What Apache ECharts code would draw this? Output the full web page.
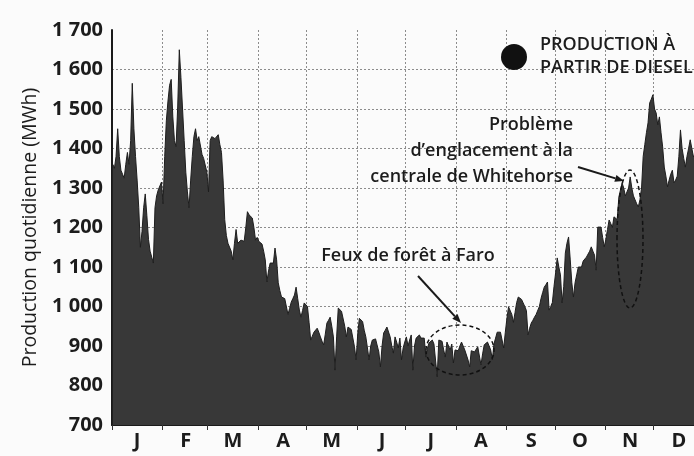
<!DOCTYPE html>
<html>
<head>
<meta charset="utf-8">
<script src="https://cdn.jsdelivr.net/npm/echarts@6/dist/echarts.min.js"></script>
<style>
html,body{margin:0;padding:0;background:#fbfbfb;}
#chart{width:694px;height:456px;}
</style>
</head>
<body>
<div id="chart"></div>
<script>
// Daily diesel-generated production (MWh), one array per month
const janValues = [1360,1350,1380,1450,1380,1345,1335,1325,1360,1390,1360,1420,1565,1450,1380,1320,1250,1150,1190,1250,1285,1230,1170,1140,1125,1110,1250,1280,1295,1305,1315];
const febValues = [1260,1380,1470,1520,1560,1575,1480,1420,1405,1505,1650,1580,1500,1420,1340,1290,1250,1320,1380,1430,1450,1420,1430,1435,1385,1375,1370,1340];
const marValues = [1290,1420,1430,1435,1425,1430,1435,1410,1390,1320,1220,1180,1160,1158,1140,1118,1160,1195,1160,1165,1168,1165,1165,1200,1240,1232,1228,1224,1200,1168,1175];
const aprValues = [1165,1161,1158,1140,1118,1062,1090,1110,1108,1110,1148,1118,1060,1040,1024,1026,1020,1016,980,995,1011,1020,1029,1049,1020,991,973,990,1009,1005];
const mayValues = [1000,960,915,925,935,940,945,935,923,912,903,930,958,965,973,950,923,839,923,996,992,988,984,950,923,948,945,942,940,898,865];
const junValues = [930,970,965,962,940,923,895,865,900,915,915,918,920,885,847,900,933,940,948,953,923,900,882,923,910,895,920,865,895,910];
const julValues = [923,900,915,928,839,900,920,925,928,920,915,920,872,895,908,912,915,905,900,822,915,913,912,890,872,910,900,890,905,857,890];
const augValues = [890,888,900,910,900,890,888,865,847,888,886,885,890,898,903,852,880,903,908,910,912,890,865,905,920,935,935,935,930,895,935];
const sepValues = [970,999,1004,980,960,985,1010,1024,1020,1018,1016,1000,990,928,945,958,965,973,980,985,1000,1020,1035,1049,1055,1062,991,1000,1010,1050];
const octValues = [1085,1123,1100,1080,1009,1050,1135,1160,1176,1120,1060,1024,1060,1080,1100,1100,1100,1115,1120,1125,1130,1140,1151,1140,1130,1092,1201,1205,1201,1175,1151];
const novValues = [1170,1195,1219,1210,1200,1227,1225,1220,1277,1295,1313,1300,1280,1290,1300,1328,1300,1280,1270,1260,1252,1270,1300,1380,1410,1440,1465,1515,1525,1536];
const decValues = [1500,1490,1460,1480,1440,1404,1353,1330,1303,1320,1335,1345,1313,1320,1330,1380,1447,1400,1375,1353,1380,1400,1422,1400,1379,1385,1395,1400,1390,1385,1395];

const monthLetters = ['J','F','M','A','M','J','J','A','S','O','N','D'];
const monthArrays = [janValues,febValues,marValues,aprValues,mayValues,junValues,julValues,augValues,sepValues,octValues,novValues,decValues];
const yMin = 700, yMax = 1700, yStep = 100;

const values = [].concat(...monthArrays);
const days = values.map((v, i) => String(i + 1));
const monthStart = new Set();
const monthMid = {};
let acc = 0;
monthArrays.forEach((arr, m) => {
  monthStart.add(acc);
  monthMid[acc + Math.floor(arr.length / 2)] = monthLetters[m];
  acc += arr.length;
});

const FONT = '"Open Sans", "Noto Sans", sans-serif';
const chart = echarts.init(document.getElementById('chart'), null, {renderer: 'canvas'});

function arrow(x1, y1, x2, y2) {
  const dx = x2 - x1, dy = y2 - y1, L = Math.hypot(dx, dy);
  const ux = dx / L, uy = dy / L, px = -uy, py = ux;
  const hl = 9, hw = 3.6;
  const bx = x2 - ux * hl, by = y2 - uy * hl;
  return [
    {type: 'line', shape: {x1, y1, x2: bx, y2: by}, style: {stroke: '#1a1a1a', lineWidth: 2}},
    {type: 'polygon', shape: {points: [[x2, y2], [bx + px * hw, by + py * hw], [bx - px * hw, by - py * hw]]}, style: {fill: '#1a1a1a'}}
  ];
}

const gridColors = [];
for (let v = yMin; v <= yMax; v += yStep) gridColors.push(v === yMax ? 'rgba(0,0,0,0)' : '#8c8c8c');

const textStyle = (extra) => Object.assign({font: '600 18px ' + FONT, fill: '#1c1c1c'}, extra);

chart.setOption({
  animation: false,
  backgroundColor: '#fbfbfb',
  grid: {left: 112, right: -10, top: 30, bottom: 31, outerBoundsMode: 'none'},
  xAxis: {
    type: 'category',
    data: days,
    boundaryGap: true,
    axisLine: {show: true, lineStyle: {color: '#1a1a1a', width: 2}},
    axisTick: {show: true, length: 5, interval: (i) => monthStart.has(i), lineStyle: {color: '#333', width: 1}},
    axisLabel: {
      show: true, interval: (i) => monthMid[i] !== undefined,
      formatter: (v, i) => monthMid[i] || '',
      fontFamily: FONT, fontSize: 20, fontWeight: 'bold', color: '#1c1c1c', margin: 6
    },
    splitLine: {show: true, interval: (i) => monthStart.has(i) && i > 0, lineStyle: {color: '#8c8c8c', type: [2, 2], width: 1}}
  },
  yAxis: {
    type: 'value', min: yMin, max: yMax, interval: yStep,
    name: 'Production quotidienne (MWh)',
    nameLocation: 'middle', nameGap: 72,
    nameTextStyle: {fontFamily: FONT, fontSize: 19.5, color: '#1c1c1c'},
    axisLine: {show: true, lineStyle: {color: '#1a1a1a', width: 2}},
    axisTick: {show: false},
    axisLabel: {
      fontFamily: FONT, fontSize: 20, fontWeight: 'bold', color: '#1c1c1c', margin: 9,
      formatter: (v) => v >= 1000 ? Math.floor(v / 1000) + ' ' + String(v % 1000).padStart(3, '0') : String(v)
    },
    splitLine: {show: true, lineStyle: {color: gridColors, type: [2, 2], width: 1}}
  },
  series: [{
    type: 'line',
    data: values,
    symbol: 'none',
    z: 3,
    lineStyle: {color: '#1e1e1e', width: 1},
    areaStyle: {color: '#383838', opacity: 1, origin: 'start'}
  }],
  graphic: [
    {type: 'circle', shape: {cx: 514, cy: 57, r: 13}, style: {fill: '#111'}, z: 10},
    {type: 'text', style: textStyle({text: 'PRODUCTION À', x: 540, y: 45, textVerticalAlign: 'middle', font: '600 18px ' + FONT}), z: 10},
    {type: 'text', style: textStyle({text: 'PARTIR DE DIESEL', x: 540, y: 68, textVerticalAlign: 'middle', font: '600 18px ' + FONT}), z: 10},

    {type: 'text', style: textStyle({text: 'Problème', x: 573, y: 125, textAlign: 'right', textVerticalAlign: 'middle'}), z: 10},
    {type: 'text', style: textStyle({text: 'd’englacement à la', x: 573, y: 151, textAlign: 'right', textVerticalAlign: 'middle'}), z: 10},
    {type: 'text', style: textStyle({text: 'centrale de Whitehorse', x: 573, y: 177, textAlign: 'right', textVerticalAlign: 'middle'}), z: 10},
    ...arrow(578, 167, 624, 181).map(e => Object.assign(e, {z: 10})),
    {type: 'ellipse', shape: {cx: 630, cy: 239, rx: 13, ry: 69}, style: {fill: 'none', stroke: '#111', lineWidth: 1.5, lineDash: [4, 3]}, z: 10},

    {type: 'text', style: textStyle({text: 'Feux de forêt à Faro', x: 408, y: 256, textAlign: 'center', textVerticalAlign: 'middle'}), z: 10},
    ...arrow(418, 276, 461, 323).map(e => Object.assign(e, {z: 10})),
    {type: 'ellipse', shape: {cx: 460, cy: 350, rx: 34, ry: 25}, style: {fill: 'none', stroke: '#111', lineWidth: 1.5, lineDash: [4, 3]}, z: 10}
  ]
});
</script>
</body>
</html>
